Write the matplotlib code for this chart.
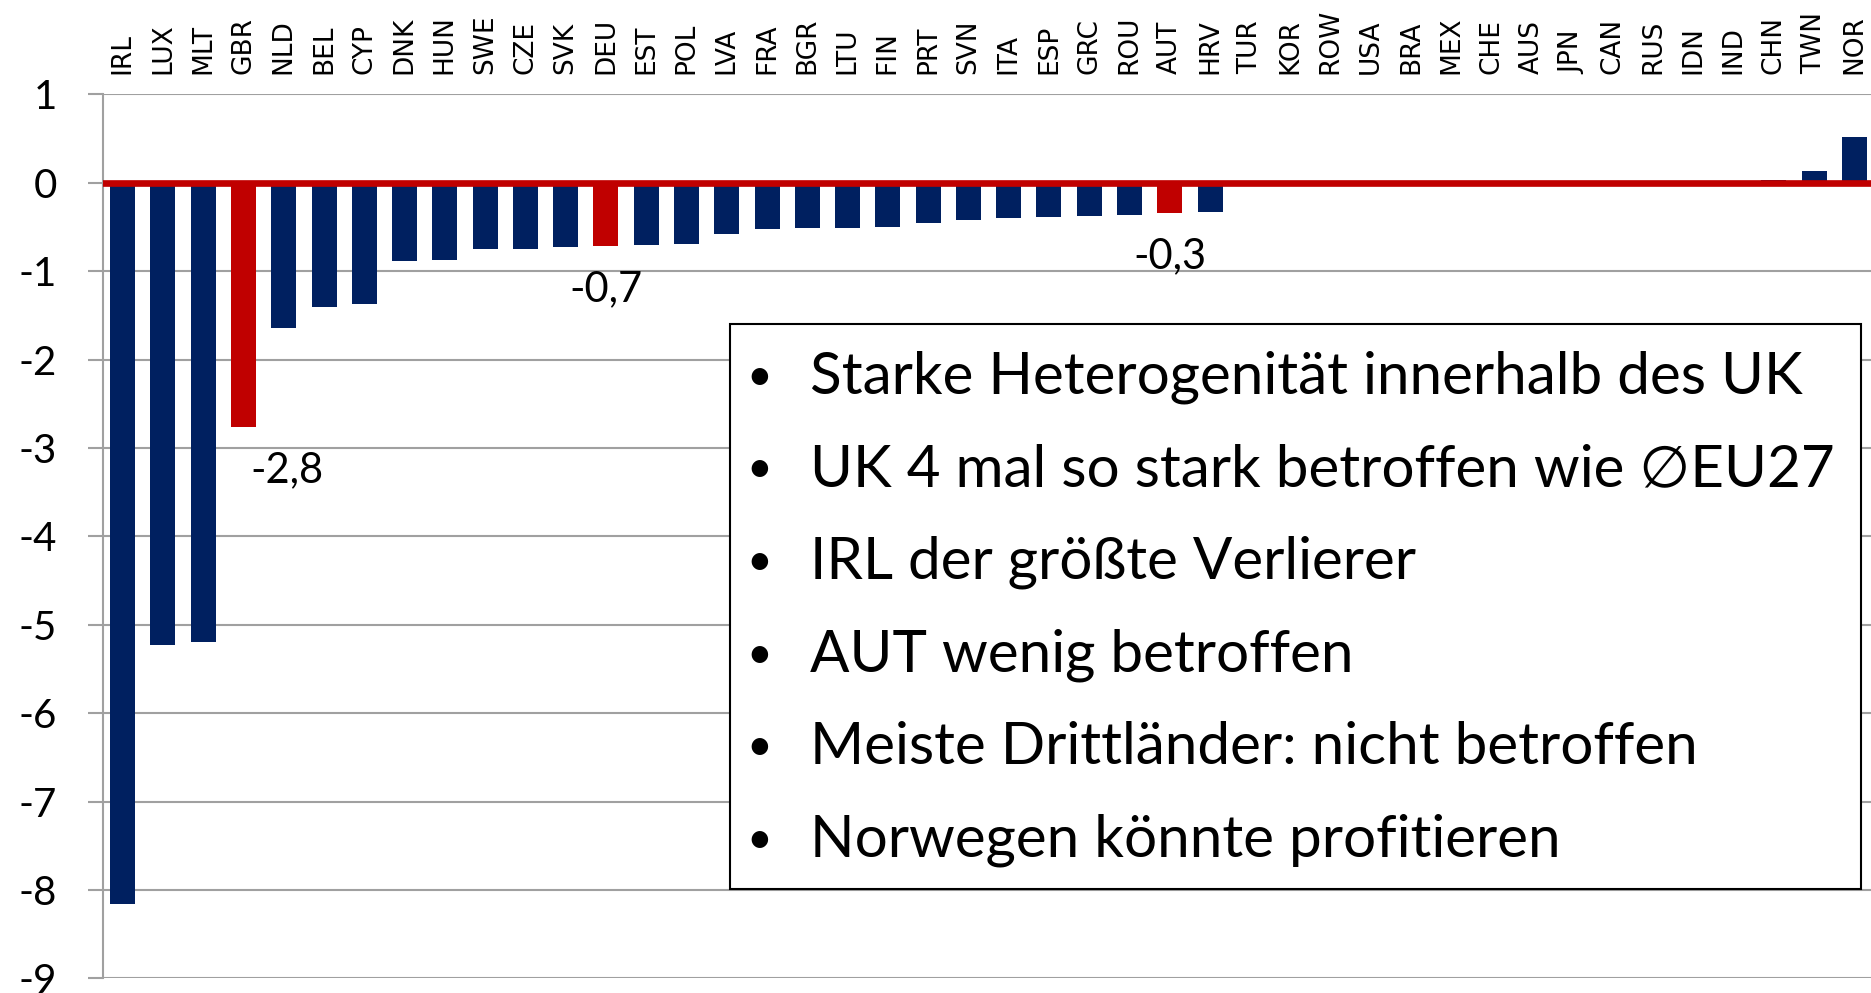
import matplotlib.pyplot as plt
from matplotlib.patches import Rectangle

plt.rcParams['axes.unicode_minus'] = False

countries = ['IRL', 'LUX', 'MLT', 'GBR', 'NLD', 'BEL', 'CYP', 'DNK', 'HUN', 'SWE',
             'CZE', 'SVK', 'DEU', 'EST', 'POL', 'LVA', 'FRA', 'BGR', 'LTU', 'FIN',
             'PRT', 'SVN', 'ITA', 'ESP', 'GRC', 'ROU', 'AUT', 'HRV', 'TUR', 'KOR',
             'ROW', 'USA', 'BRA', 'MEX', 'CHE', 'AUS', 'JPN', 'CAN', 'RUS', 'IDN',
             'IND', 'CHN', 'TWN', 'NOR']
values = [-8.16, -5.23, -5.19, -2.76, -1.64, -1.41, -1.37, -0.88, -0.87, -0.75,
          -0.75, -0.73, -0.72, -0.70, -0.69, -0.58, -0.52, -0.51, -0.51, -0.50,
          -0.45, -0.42, -0.40, -0.39, -0.38, -0.36, -0.34, -0.33, 0.0, 0.0,
          0.0, 0.0, 0.0, 0.0, 0.0, 0.0, 0.0, 0.0, 0.0, 0.0,
          0.0, 0.03, 0.13, 0.52]
highlighted = ['GBR', 'DEU', 'AUT']
value_labels = {'GBR': '-2,8', 'DEU': '-0,7', 'AUT': '-0,3'}
bullets = [
    'Starke Heterogenität innerhalb des UK',
    'UK 4 mal so stark betroffen wie \u2205EU27',
    'IRL der größte Verlierer',
    'AUT wenig betroffen',
    'Meiste Drittländer: nicht betroffen',
    'Norwegen könnte profitieren',
]

NAVY = '#002060'
RED = '#C00000'
GRID = '#a0a0a0'
TEXT_FONT = ['Lato', 'DejaVu Sans']

fig = plt.figure(figsize=(18.71, 9.93), dpi=100)
ax = fig.add_axes([0.0548, 0.0148, 0.9471, 0.8902])

x = list(range(len(countries)))
colors = [RED if c in highlighted else NAVY for c in countries]
ax.bar(x, values, width=0.62, color=colors, zorder=2)
ax.axhline(0, color=RED, lw=4.8, zorder=3)

ax.set_xlim(-0.5, len(countries) - 0.5)
ax.set_ylim(-9, 1)
ax.set_yticks(range(-9, 2))
ax.set_yticklabels([str(v) for v in range(-9, 2)], family=TEXT_FONT, fontsize=29)
ax.tick_params(axis='y', length=11, width=1.5, color=GRID, pad=22)

ax.xaxis.tick_top()
ax.set_xticks(x)
ax.set_xticklabels(countries, rotation=90, fontsize=19, family='DejaVu Sans')
ax.tick_params(axis='x', length=0, pad=15)

ax.yaxis.grid(True, color=GRID, lw=1.5, zorder=0)
ax.set_axisbelow(True)
for side in ['top', 'right', 'bottom']:
    ax.spines[side].set_visible(False)
ax.spines['left'].set_color(GRID)
ax.spines['left'].set_linewidth(1.5)

# value labels under the highlighted bars
offsets = {'GBR': (31, -31), 'DEU': (0, -31), 'AUT': (0, -31)}
for c, txt in value_labels.items():
    i = countries.index(c)
    ax.annotate(txt, (i, values[i]), xytext=offsets[c], textcoords='offset points',
                ha='center', va='center', fontsize=30, family=TEXT_FONT)

# text box with bullet points
box = Rectangle((0.390, 0.1047), 0.6047, 0.5693, transform=fig.transFigure,
                facecolor='white', edgecolor='black', lw=1.5, zorder=5)
fig.add_artist(box)
y0, dy = 0.620, -0.0933
for k, line in enumerate(bullets):
    yy = y0 + k * dy
    fig.text(0.406, yy, '\u2022', fontsize=32, family=TEXT_FONT, ha='center', va='center', zorder=6)
    fig.text(0.433, yy, line, fontsize=42, family=TEXT_FONT, ha='left', va='center', zorder=6)

fig.savefig('out.png', dpi=100)
